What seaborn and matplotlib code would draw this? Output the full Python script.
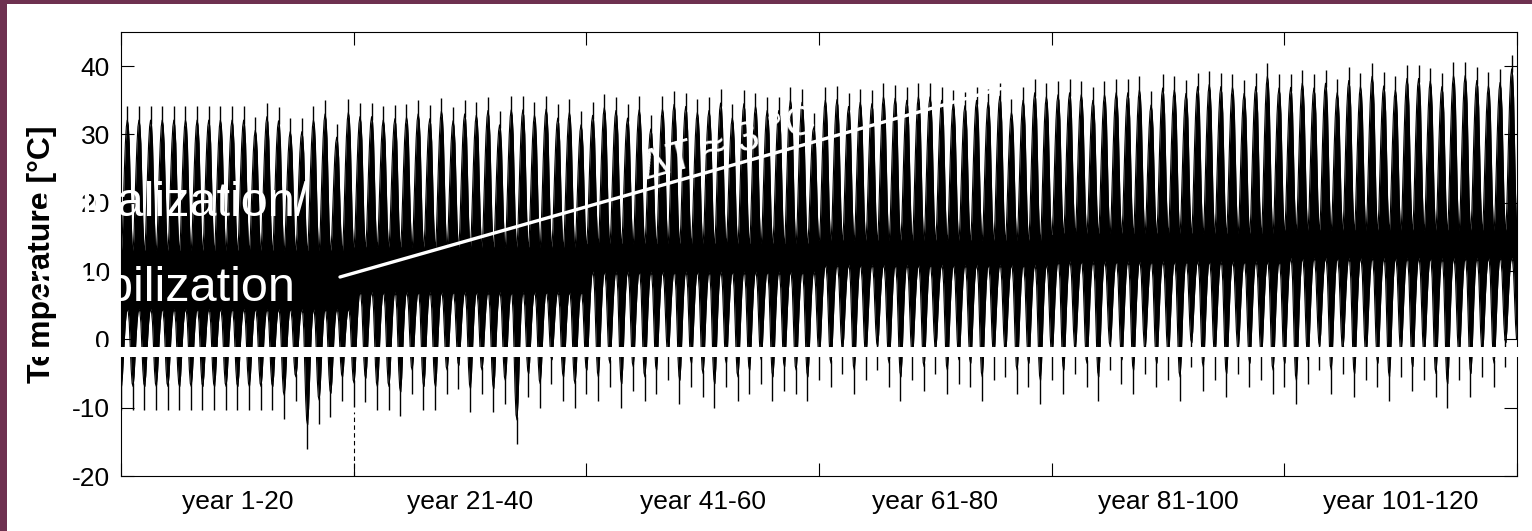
import numpy as np
import pandas as pd
import matplotlib
matplotlib.use("Agg")
import matplotlib.pyplot as plt
import seaborn as sns
from matplotlib.patches import Rectangle
from matplotlib.lines import Line2D

# Annual extremes of the daily temperature series (°C), years 1-120
annual_max = [
    34.1, 34.1, 34.1, 34.1, 34.1, 34.1, 34.1, 34.1, 34.1, 34.1,
    34.1, 32.6, 34.6, 34.0, 32.4, 32.4, 34.1, 35.0, 31.6, 35.2,
    34.6, 34.6, 34.1, 34.3, 34.5, 35.0, 34.3, 35.4, 34.0, 35.0,
    34.8, 35.5, 33.4, 35.6, 35.6, 34.8, 35.7, 34.4, 35.2, 33.4,
    34.8, 35.9, 35.5, 34.4, 35.6, 32.8, 35.7, 36.4, 36.1, 35.2,
    35.5, 36.6, 34.4, 36.5, 36.1, 35.5, 35.5, 37.0, 36.7, 33.2,
    37.0, 37.1, 36.1, 36.7, 36.5, 37.5, 37.3, 37.0, 37.5, 37.5,
    37.0, 36.5, 36.2, 37.0, 36.7, 37.6, 35.2, 37.0, 38.1, 37.5,
    37.8, 38.1, 37.8, 37.0, 37.8, 38.1, 38.1, 38.5, 36.3, 38.8,
    38.5, 38.0, 39.0, 39.3, 39.0, 38.9, 38.0, 39.0, 40.5, 38.8,
    38.9, 39.5, 38.8, 39.5, 38.1, 39.9, 39.0, 40.5, 39.1, 38.5,
    40.2, 40.2, 39.8, 39.0, 40.6, 40.6, 39.9, 39.1, 39.6, 41.6,
]
winter_min = [
    -10.4, -10.4, -10.4, -10.4, -10.4, -10.4, -10.4, -10.4, -10.4, -10.4,
    -10.4, -10.4, -10.4, -10.4, -11.7, -9.0, -16.0, -12.4, -11.4, -9.0,
    -9.9, -9.2, -10.4, -10.4, -11.2, -8.0, -10.4, -10.4, -8.0, -7.3,
    -10.7, -8.0, -10.7, -9.5, -15.3, -8.5, -10.0, -6.5, -9.0, -10.0,
    -8.0, -9.0, -7.0, -10.0, -7.5, -9.0, -8.0, -6.0, -9.5, -7.0,
    -8.5, -10.0, -7.0, -9.0, -8.0, -6.5, -9.0, -7.5, -8.0, -9.0,
    -6.0, -7.0, -5.0, -8.0, -6.0, -4.5, -7.0, -9.0, -6.0, -7.5,
    -5.0, -8.0, -6.5, -7.0, -9.0, -6.0, -5.5, -8.0, -7.0, -9.5,
    -6.0, -8.0, -5.0, -7.0, -9.0, -4.5, -6.5, -8.0, -5.0, -7.0,
    -6.0, -9.0, -4.0, -7.5, -6.0, -8.5, -5.0, -7.0, -6.0, -8.0,
    -7.0, -9.5, -6.5, -4.5, -8.0, -5.0, -8.5, -6.0, -7.0, -9.0,
    -5.5, -7.5, -6.0, -8.5, -10.0, -6.0, -8.5, -5.5, -7.0, -4.0,
]
block_labels = ["year 1-20", "year 21-40", "year 41-60",
                "year 61-80", "year 81-100", "year 101-120"]
# Envelope of the dense daily band, per 20-year block
upper_winter_level = [13.0, 13.5, 14.0, 14.5, 15.5, 16.0]
lower_summer_level = [4.5, 7.0, 10.0, 11.0, 11.5, 12.0]
# Monthly shape of the seasonal cycle (0 = winter, 1 = summer)
season_profile = [0.0, 0.14, 0.38, 0.62, 0.82, 0.95, 1.0, 0.96, 0.82, 0.52, 0.22, 0.04]

PEAK_TAIL = 2.0
TROUGH_TAIL = 3.5
n_years = len(annual_max)

rows = []
for i in range(n_years):
    blk = i // 20
    uw = upper_winter_level[blk]
    ls = lower_summer_level[blk]
    top = annual_max[i] - PEAK_TAIL
    for m, p in enumerate(season_profile):
        wmin = winter_min[i] if m < 6 else winter_min[min(i + 1, n_years - 1)]
        bot = wmin + TROUGH_TAIL
        rows.append((i + (m + 0.5) / 12, uw + (top - uw) * p, ls - (ls - bot) * (1 - p)))
df = pd.DataFrame(rows, columns=["t", "upper", "lower"])

W, H = 1532, 531
sns.set_theme(style="ticks")
plt.rcParams["font.family"] = ["Liberation Sans", "DejaVu Sans"]
plt.rcParams["axes.unicode_minus"] = False

fig = plt.figure(figsize=(W / 100, H / 100), dpi=100)
fig.patch.set_facecolor("white")
ax = fig.add_axes([121 / W, 1 - 476 / H, (1517 - 121) / W, (476 - 32) / H])
ax.set_facecolor("white")

ax.fill_between(df["t"], df["lower"], df["upper"], color="black", lw=0)
sns.lineplot(data=df, x="t", y="upper", ax=ax, color="black", lw=0.8, estimator=None, sort=False)
sns.lineplot(data=df, x="t", y="lower", ax=ax, color="black", lw=0.8, estimator=None, sort=False)

peak_x = np.arange(n_years) + 0.54
ax.vlines(peak_x, np.array(annual_max) - PEAK_TAIL - 0.5, annual_max, color="black", lw=1.0)
trough_x = np.arange(n_years) + 0.0
ax.vlines(trough_x, winter_min, np.array(winter_min) + TROUGH_TAIL + 0.5, color="black", lw=1.0)
ax.vlines([20], -20, -10.6, color="black", lw=0.8, linestyles=(0, (4, 3)))

ax.set_xlim(0, 120)
ax.set_ylim(-20, 45)
ax.set_yticks([-20, -10, 0, 10, 20, 30, 40])
ax.set_xticks(np.arange(0, 121, 20))
ax.set_xticklabels([])
ax.set_xticks(np.arange(10, 120, 20), minor=True)
ax.set_xticklabels(block_labels, minor=True)
ax.tick_params(axis="both", which="major", direction="in", length=9.4, width=0.8,
               top=True, right=True, labelsize=19, color="black", labelcolor="black")
ax.tick_params(axis="x", which="major", pad=8)
ax.tick_params(axis="y", which="major", pad=8)
ax.tick_params(axis="x", which="minor", length=0, labelsize=19, pad=10, labelcolor="black")
for s in ax.spines.values():
    s.set_visible(True)
    s.set_color("black")
    s.set_linewidth(0.8)
ax.set_ylabel("")
ax.set_xlabel("")

def fx(x):
    return x / W

def fy(y):
    return 1 - y / H

fig.text(fx(42), fy(254), "Temperature [°C]", rotation=90, ha="center", va="center",
         fontsize=23, fontweight="bold", color="black")

# slide overlay: trend line, annotations, band, frame
fig.add_artist(Line2D([fx(340), fx(1010)], [fy(277), fy(86)], transform=fig.transFigure,
                      color="white", lw=2.4, zorder=5))
fig.text(fx(645), fy(180), "ΔT ≈ 3 °C", rotation=15.9, rotation_mode="anchor",
         ha="left", va="baseline", fontsize=30, color="white", zorder=6)
fig.text(fx(41), fy(216), "Initialization/", ha="left", va="baseline",
         fontsize=35, color="white", zorder=6)
fig.text(fx(34), fy(301), "Stabilization", ha="left", va="baseline",
         fontsize=35, color="white", zorder=6)
fig.add_artist(Rectangle((fx(7), fy(357)), fx(1520 - 7), 10 / H, transform=fig.transFigure,
                         facecolor="white", edgecolor="none", zorder=7))
maroon = "#6E3150"
fig.add_artist(Rectangle((0, 0), fx(7), 1, transform=fig.transFigure,
                         facecolor=maroon, edgecolor="none", zorder=8))
fig.add_artist(Rectangle((0, fy(4)), 1, 4 / H, transform=fig.transFigure,
                         facecolor=maroon, edgecolor="none", zorder=8))

fig.savefig("out.png", dpi=100, facecolor="white")
